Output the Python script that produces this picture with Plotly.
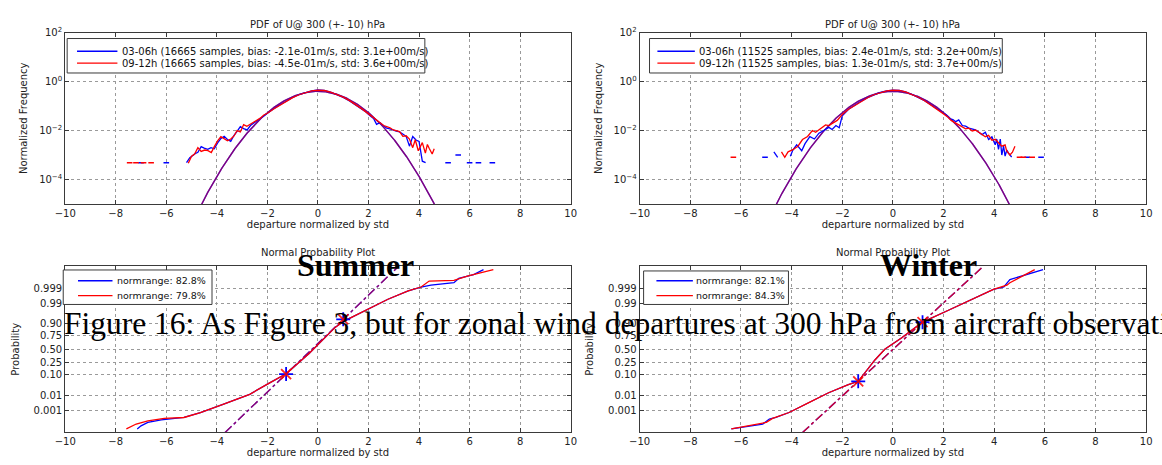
import plotly.graph_objects as go
from statistics import NormalDist

W, H = 1162, 465
FONT = "DejaVu Sans, Verdana, sans-serif"
SERIF = "Liberation Serif, Times New Roman, serif"
BLUE = "rgb(0,0,255)"
RED = "rgb(255,0,0)"
INK = "#222"
STD = NormalDist(0.0, 1.0)

# ---------------- PDF of U@300 hPa: summer ----------------
su_blue_x = [-5.20, -5.07, -4.95, -4.88, -4.75, -4.62, -4.50, -4.36, -4.23, -4.10,
             -3.97, -3.85, -3.71, -3.58, -3.45, -3.32, -3.20, -3.07, -2.94, -2.80,
             -2.67, -2.54, -2.40, -2.28, -2.15, -2.00, -1.75, -1.50, -1.25, -1.00,
             -0.75, -0.50, -0.25, 0.00, 0.25, 0.50, 0.75, 1.00, 1.25, 1.50,
             1.75, 1.90, 2.05, 2.20, 2.32, 2.45, 2.58, 2.72, 2.85, 2.98,
             3.10, 3.23, 3.36, 3.49, 3.62, 3.75, 3.88, 4.00, 4.13, 4.26]
su_blue_y = [4.9e-4, 7.8e-4, 9.5e-4, 1.1e-3, 1.3e-3, 2.2e-3, 1.9e-3, 1.7e-3, 2.0e-3, 1.8e-3,
             3.1e-3, 4.6e-3, 5.8e-3, 4.3e-3, 3.6e-3, 6.4e-3, 9.3e-3, 1.45e-2, 1.2e-2, 1.06e-2,
             1.6e-2, 2.0e-2, 2.6e-2, 3.3e-2, 4.2e-2, 5.3e-2, 7.8e-2, 0.113, 0.161, 0.223,
             0.293, 0.362, 0.420, 0.452, 0.434, 0.371, 0.297, 0.226, 0.161, 0.110,
             0.072, 0.057, 0.041, 0.031, 0.018, 0.021, 0.016, 0.0125, 0.0118, 0.0102,
             0.0094, 0.0088, 0.0071, 0.0058, 0.0023, 0.0057, 0.0041, 0.0036, 5.6e-4, 4.9e-4]
su_red_x = [-5.13, -5.00, -4.88, -4.75, -4.62, -4.48, -4.35, -4.22, -4.10, -3.97,
            -3.84, -3.71, -3.58, -3.45, -3.32, -3.20, -3.07, -2.94, -2.81, -2.68,
            -2.54, -2.41, -2.28, -2.14, -2.00, -1.75, -1.50, -1.25, -1.00, -0.75,
            -0.50, -0.25, 0.00, 0.25, 0.50, 0.75, 1.00, 1.25, 1.50, 1.75,
            2.00, 2.15, 2.30, 2.45, 2.60, 2.72, 2.85, 2.98, 3.10, 3.23,
            3.36, 3.49, 3.62, 3.75, 3.85, 3.97, 4.06, 4.13, 4.25, 4.33,
            4.40, 4.52, 4.60]
su_red_y = [4.6e-4, 9.0e-4, 1.1e-3, 2.0e-3, 1.4e-3, 1.6e-3, 1.5e-3, 1.25e-3, 2.2e-3, 3.8e-3,
            5.6e-3, 4.5e-3, 3.8e-3, 4.5e-3, 6.0e-3, 1.0e-2, 8.8e-3, 1.75e-2, 1.5e-2, 1.8e-2,
            2.2e-2, 2.7e-2, 3.2e-2, 4.3e-2, 5.1e-2, 7.6e-2, 0.110, 0.158, 0.220, 0.290,
            0.360, 0.417, 0.446, 0.431, 0.369, 0.300, 0.231, 0.166, 0.114, 0.075,
            0.048, 0.036, 0.026, 0.020, 0.016, 0.0145, 0.0130, 0.0106, 0.0098, 0.0091,
            0.0058, 0.0061, 0.0045, 0.0020, 0.0042, 0.0015, 0.0023, 0.0032, 0.0012, 0.0027,
            0.0019, 0.0011, 0.0018]
# isolated single-count bins far out in the tails
su_blue_dot_x = [-7.00, -6.00, 5.15, 5.55, 6.00, 6.35, 6.90]
su_blue_dot_y = [4.8e-4, 4.8e-4, 4.8e-4, 1.0e-3, 4.8e-4, 4.8e-4, 4.8e-4]
su_red_dot_x = [-7.45, -7.20, -6.90, -6.60]
su_red_dot_y = [4.8e-4, 4.8e-4, 4.8e-4, 4.8e-4]

# ---------------- PDF of U@300 hPa: winter ----------------
wi_blue_x = [-4.70, -4.55, None, -4.05, -3.95, -3.80, -3.70, -3.60,
             -3.47, -3.28, -3.10, -2.92, -2.73, -2.53, -2.40, -2.25, -2.12, -2.00,
             -1.75, -1.50, -1.25, -1.00, -0.75, -0.50, -0.25, 0.00, 0.25, 0.50,
             0.75, 1.00, 1.25, 1.50, 1.75, 2.00, 2.12, 2.25, 2.37, 2.48,
             2.60, 2.74, 2.87, 3.00, 3.13, 3.26, 3.39, 3.52, 3.65, 3.78,
             3.91, 4.04, 4.10, 4.17, 4.24, 4.30, 4.37, 4.43, 4.50, 4.56, 4.69]
wi_blue_y = [1.35e-3, 8.1e-4, None, 8.9e-4, 1.6e-3, 2.6e-3, 1.9e-3, 1.5e-3,
             2.9e-3, 5.6e-3, 4.5e-3, 7.8e-3, 1.0e-2, 1.35e-2, 1.1e-2, 1.6e-2, 1.3e-2, 4.0e-2,
             7.4e-2, 0.110, 0.160, 0.221, 0.292, 0.361, 0.420, 0.450, 0.440, 0.378,
             0.302, 0.231, 0.166, 0.113, 0.075, 0.050, 0.042, 0.030, 0.028, 0.023,
             0.027, 0.016, 0.015, 0.0126, 0.012, 0.0107, 0.0085, 0.0068, 0.0085, 0.0043,
             0.0055, 0.0026, 0.0045, 0.0017, 0.0045, 0.0010, 0.0023, 0.0009, 0.0016, 0.0012, 8.3e-4]
wi_red_x = [-4.40, -4.27, -4.14, -3.95, -3.75, -3.57, -3.37, -3.18, -3.05, -2.92,
            -2.79, -2.66, -2.53, -2.40, -2.20, -2.00, -1.75, -1.50, -1.25, -1.00,
            -0.75, -0.50, -0.25, 0.00, 0.25, 0.50, 0.75, 1.00, 1.25, 1.50,
            1.75, 2.00, 2.15, 2.30, 2.45, 2.60, 2.74, 2.87, 3.00, 3.13,
            3.26, 3.39, 3.52, 3.65, 3.78, 3.91, 4.04, 4.17, 4.30, 4.43,
            4.49, 4.62, 4.72, 4.82]
wi_red_y = [1.35e-3, 8.1e-4, 1.35e-3, 1.65e-3, 2.3e-3, 4.3e-3, 5.7e-3, 1.0e-2, 8.5e-3, 1.05e-2,
            1.4e-2, 1.7e-2, 1.6e-2, 2.0e-2, 2.6e-2, 4.5e-2, 7.4e-2, 0.105, 0.156, 0.219,
            0.290, 0.360, 0.418, 0.447, 0.437, 0.376, 0.300, 0.229, 0.165, 0.112,
            0.074, 0.048, 0.037, 0.026, 0.021, 0.017, 0.0135, 0.0118, 0.0125, 0.0095,
            0.0105, 0.0085, 0.0072, 0.0056, 0.0064, 0.0040, 0.0044, 0.0033, 0.0023, 0.0026,
            0.0015, 0.0010, 0.0013, 0.0023]
wi_blue_dot_x = [-5.05, 5.30, 5.85]
wi_blue_dot_y = [8.1e-4, 8.1e-4, 8.1e-4]
wi_red_dot_x = [-6.30, 5.00, 5.15, 5.50]
wi_red_dot_y = [8.1e-4, 8.1e-4, 8.1e-4, 8.1e-4]

# fitted normal reference densities (mean, std) in normalized units
su_fit = {"blue": (0.0, 1.0), "red": (0.0, 1.0)}
wi_fit = {"blue": (0.0, 1.0), "red": (0.0, 1.0)}

# ---------------- normal probability plots (sorted departures vs probability) ----------------
su_q_blue_x = [-7.15, -7.00, -6.73, -6.20, -5.30, -4.65, -3.73, -2.70, -1.91, -1.26,
               -0.35, 0.17, 0.69, 1.05, 2.12, 2.77, 3.57, 4.08, 4.47, 5.38, 5.57, 6.16, 6.55]
su_q_blue_p = [2.8e-5, 5.4e-5, 1.08e-4, 1.78e-4, 2.8e-4, 6.9e-4, 2.72e-3, 1.13e-2, 4.46e-2, 0.1075,
               0.4168, 0.6772, 0.8686, 0.925, 0.9830, 0.9943, 0.99841, 0.99918, 0.99942, 0.99962,
               0.99983, 0.99992, 0.999972]
su_q_red_x = [-7.58, -7.19, -6.73, -6.08, -5.30, -4.65, -3.73, -2.70, -1.91, -1.26,
              -0.35, 0.17, 0.69, 1.05, 2.12, 2.77, 3.57, 4.08, 4.40, 5.38, 5.91, 6.94]
su_q_red_p = [2.8e-5, 7.8e-5, 1.47e-4, 2.33e-4, 2.8e-4, 6.9e-4, 2.72e-3, 1.13e-2, 4.46e-2, 0.1075,
              0.4168, 0.6772, 0.8686, 0.925, 0.9830, 0.9943, 0.99841, 0.99918, 0.99972, 0.99975,
              0.99989, 0.999972]
wi_q_blue_x = [-6.38, -5.14, -4.88, -4.62, -4.10, -3.32, -2.54, -1.76, -1.37, -0.71,
               -0.32, 0.35, 1.17, 2.15, 3.97, 4.38, 4.62, 5.93]
wi_q_blue_p = [2.8e-5, 7.8e-5, 2.08e-4, 2.8e-4, 6.9e-4, 3.47e-3, 1.39e-2, 3.67e-2, 5.26e-2, 0.2946,
               0.5, 0.72, 0.9147, 0.9744, 0.99878, 0.99918, 0.99979, 0.999972]
wi_q_red_x = [-6.38, -5.00, -4.75, -4.10, -3.32, -2.54, -1.76, -1.37, -0.71,
              -0.32, 0.35, 1.17, 2.15, 3.97, 4.50, 4.62, 5.60]
wi_q_red_p = [2.8e-5, 1.08e-4, 2.33e-4, 6.9e-4, 3.47e-3, 1.39e-2, 3.67e-2, 5.26e-2, 0.2946,
              0.5, 0.72, 0.9147, 0.9744, 0.99878, 0.99941, 0.99962, 0.999972]
# points (departure, probability) defining each reference line
su_ref_pts = ([-1.26, 1.00], [0.105, 0.935])
wi_ref_pts = ([-1.37, 1.17], [0.0526, 0.9147])

legend_su_pdf = ["03-06h (16665 samples, bias: -2.1e-01m/s, std: 3.1e+00m/s)",
                 "09-12h (16665 samples, bias: -4.5e-01m/s, std: 3.6e+00m/s)"]
legend_wi_pdf = ["03-06h (11525 samples, bias: 2.4e-01m/s, std: 3.2e+00m/s)",
                 "09-12h (11525 samples, bias: 1.3e-01m/s, std: 3.7e+00m/s)"]
legend_su_q = ["normrange: 82.8%", "normrange: 79.8%"]
legend_wi_q = ["normrange: 82.1%", "normrange: 84.3%"]

x_ticks = list(range(-10, 11, 2))
pdf_tickvals = [1e-4, 1e-2, 1e0, 1e2]
pdf_ticktext = ["10<sup>\u22124</sup>", "10<sup>\u22122</sup>", "10<sup>0</sup>", "10<sup>2</sup>"]
prob_ticks = [0.001, 0.01, 0.10, 0.25, 0.50, 0.75, 0.90, 0.99, 0.999]
prob_labels = ["0.001", "0.01", "0.10", "0.25", "0.50", "0.75", "0.90", "0.99", "0.999"]
Z_LIM = 4.21

# ---------------- panel placement (pixels) ----------------
XL = [55 / W, 568 / W]
XR = [638 / W, 1152 / W]
YT = [1 - 200 / H, 1 - 26 / H]
YB = [1 - 432 / H, 1 - 263 / H]

fig = go.Figure()
shapes = []
annotations = []


def z_of(ps):
    return [STD.inv_cdf(p) for p in ps]


def add_pdf_panel(xa, ya, bx, by, rx, ry, bdx, bdy, rdx, rdy, fit, names):
    # fitted normal curves, drawn underneath
    grid = [i / 50 for i in range(-250, 251)]
    for col, key, op in ((BLUE, "blue", 1.0), (RED, "red", 0.5)):
        mu, sd = fit[key]
        dist = NormalDist(mu, sd)
        fig.add_trace(go.Scatter(x=grid, y=[dist.pdf(g) for g in grid], mode="lines",
                                 line=dict(color=col, width=1.4), opacity=op,
                                 xaxis=xa, yaxis=ya, hoverinfo="skip"))
    fig.add_trace(go.Scatter(x=bx, y=by, mode="lines", name=names[0],
                             line=dict(color=BLUE, width=1.3), xaxis=xa, yaxis=ya))
    fig.add_trace(go.Scatter(x=rx, y=ry, mode="lines", name=names[1],
                             line=dict(color=RED, width=1.3), xaxis=xa, yaxis=ya))
    for dx, dy, col in ((bdx, bdy, BLUE), (rdx, rdy, RED)):
        fig.add_trace(go.Scatter(x=dx, y=dy, mode="markers",
                                 marker=dict(symbol="line-ew", size=4, color=col,
                                             line=dict(color=col, width=1.5)),
                                 xaxis=xa, yaxis=ya))


def add_q_panel(xa, ya, bx, bp, rx, rp, ref, names, red_op):
    rxs, rps = ref
    z0, z1 = STD.inv_cdf(rps[0]), STD.inv_cdf(rps[1])
    slope = (z1 - z0) / (rxs[1] - rxs[0])
    lx = [rxs[0] + (-Z_LIM - z0) / slope, rxs[0] + (Z_LIM - z0) / slope]
    for col, op in ((BLUE, 1.0), (RED, red_op)):
        fig.add_trace(go.Scatter(x=lx, y=[-Z_LIM, Z_LIM], mode="lines",
                                 line=dict(color=col, width=1.4, dash="dashdot"), opacity=op,
                                 xaxis=xa, yaxis=ya, hoverinfo="skip"))
    fig.add_trace(go.Scatter(x=bx, y=z_of(bp), mode="lines", name=names[0],
                             line=dict(color=BLUE, width=1.3), xaxis=xa, yaxis=ya))
    fig.add_trace(go.Scatter(x=rx, y=z_of(rp), mode="lines", name=names[1],
                             line=dict(color=RED, width=1.3), xaxis=xa, yaxis=ya))
    for col, sym, op in ((BLUE, "cross-thin-open", 1.0), (RED, "x-thin-open", 0.85)):
        fig.add_trace(go.Scatter(x=rxs, y=z_of(rps), mode="markers", opacity=op,
                                 marker=dict(symbol=sym, size=10, color=col,
                                             line=dict(color=col, width=1.8)),
                                 xaxis=xa, yaxis=ya))


def add_legend_box(box, line_x, text_x, rows, labels, size):
    x0, y0, x1, y1 = box
    shapes.append(dict(type="rect", xref="paper", yref="paper", layer="above",
                       x0=x0 / W, x1=x1 / W, y0=1 - y1 / H, y1=1 - y0 / H,
                       line=dict(color="#3a3a3a", width=1), fillcolor="white"))
    for ry, col, lab in zip(rows, (BLUE, RED), labels):
        shapes.append(dict(type="line", xref="paper", yref="paper", layer="above",
                           x0=line_x[0] / W, x1=line_x[1] / W, y0=1 - ry / H, y1=1 - ry / H,
                           line=dict(color=col, width=1.4)))
        annotations.append(dict(x=text_x / W, y=1 - ry / H, xref="paper", yref="paper",
                                xanchor="left", yanchor="middle", text=lab, showarrow=False,
                                borderpad=0,
                                font=dict(family=FONT, size=size, color="#111")))


add_pdf_panel("x", "y", su_blue_x, su_blue_y, su_red_x, su_red_y,
              su_blue_dot_x, su_blue_dot_y, su_red_dot_x, su_red_dot_y, su_fit, legend_su_pdf)
add_pdf_panel("x2", "y2", wi_blue_x, wi_blue_y, wi_red_x, wi_red_y,
              wi_blue_dot_x, wi_blue_dot_y, wi_red_dot_x, wi_red_dot_y, wi_fit, legend_wi_pdf)
add_q_panel("x3", "y3", su_q_blue_x, su_q_blue_p, su_q_red_x, su_q_red_p,
            su_ref_pts, legend_su_q, 0.55)
add_q_panel("x4", "y4", wi_q_blue_x, wi_q_blue_p, wi_q_red_x, wi_q_red_p,
            wi_ref_pts, legend_wi_q, 0.8)

add_legend_box((57, 32, 420, 67), (67, 108), 112, (45, 57), legend_su_pdf, 10)
add_legend_box((648, 32, 1006, 67), (656, 694), 697, (45, 57), legend_wi_pdf, 10)
add_legend_box((53, 267, 204, 302), (68, 103), 107, (278, 293), legend_su_q, 9.5)
add_legend_box((642, 268, 789, 302), (655, 692), 694, (278, 293), legend_wi_q, 9.5)

axis_style = dict(showline=True, linecolor="#3a3a3a", linewidth=1, mirror="ticks",
                  ticks="inside", ticklen=4, tickcolor="#3a3a3a",
                  showgrid=True, gridcolor="#9a9a9a", griddash="dot", gridwidth=1,
                  zeroline=False, tickfont=dict(family=FONT, size=10, color=INK))
xtitle = dict(text="departure normalized by std", font=dict(family=FONT, size=10, color=INK),
              standoff=2)

layout_axes = {}
for i, (dx, dy) in enumerate(((XL, YT), (XR, YT), (XL, YB), (XR, YB)), start=1):
    sx = "" if i == 1 else str(i)
    layout_axes["xaxis" + sx] = dict(axis_style, domain=dx, range=[-10, 10], tickvals=x_ticks,
                                     anchor="y" + sx, title=xtitle)
    if i <= 2:
        layout_axes["yaxis" + sx] = dict(axis_style, domain=dy, type="log", range=[-5, 2],
                                         tickvals=pdf_tickvals, ticktext=pdf_ticktext,
                                         anchor="x" + sx,
                                         title=dict(text="Normalized Frequency",
                                                    font=dict(family=FONT, size=10, color=INK),
                                                    standoff=9))
    else:
        layout_axes["yaxis" + sx] = dict(axis_style, domain=dy, range=[-Z_LIM, Z_LIM],
                                         tickvals=z_of(prob_ticks), ticktext=prob_labels,
                                         anchor="x" + sx,
                                         title=dict(text="Probability",
                                                    font=dict(family=FONT, size=10, color=INK),
                                                    standoff=12))

for cx, txt, ty in ((sum(XL) / 2, "PDF of U@ 300 (+- 10) hPa", 18),
                    (sum(XR) / 2, "PDF of U@ 300 (+- 10) hPa", 18),
                    (sum(XL) / 2, "Normal Probability Plot", 249),
                    (sum(XR) / 2, "Normal Probability Plot", 249)):
    annotations.append(dict(x=cx, y=1 - ty / H, xref="paper", yref="paper", text=txt,
                            xanchor="center", yanchor="middle", showarrow=False,
                            font=dict(family=FONT, size=10, color=INK)))

# document caption and season labels set over the figure
annotations.append(dict(x=350 / W, y=1 - 262 / H, xref="paper", yref="paper",
                        xanchor="center", yanchor="middle",
                        text="<b>Summer</b>", showarrow=False,
                        font=dict(family=SERIF, size=32, color="black")))
annotations.append(dict(x=931 / W, y=1 - 262 / H, xref="paper", yref="paper",
                        xanchor="center", yanchor="middle",
                        text="<b>Winter</b>", showarrow=False,
                        font=dict(family=SERIF, size=32, color="black")))
annotations.append(dict(x=53 / W, y=1 - 321.5 / H, xref="paper", yref="paper",
                        xanchor="left", yanchor="middle", borderpad=0,
                        text="Figure 16: As Figure 3, but for zonal wind departures at 300 hPa "
                             "from aircraft observations.",
                        showarrow=False, font=dict(family=SERIF, size=31.5, color="black")))

fig.update_layout(
    width=W, height=H, margin=dict(l=0, r=0, t=0, b=0),
    paper_bgcolor="white", plot_bgcolor="white", showlegend=False,
    font=dict(family=FONT, size=10, color=INK),
    annotations=annotations, shapes=shapes,
    **layout_axes,
)

fig.write_html("out.html")
